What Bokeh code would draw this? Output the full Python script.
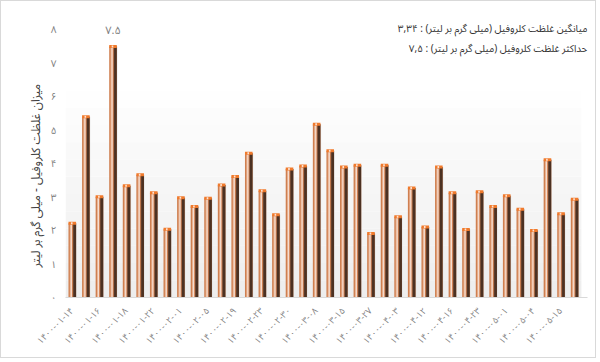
import numpy as np
from bokeh.plotting import figure
from bokeh.models import ColumnDataSource, FixedTicker, Label, BoxAnnotation, Range1d, Title
from bokeh.transform import dodge
from bokeh.core.properties import value
from bokeh.embed import file_html
from bokeh.resources import INLINE

# ---- data ----
dates = ["1400-01-14", "1400-01-16", "1400-01-18", "1400-01-22", "1400-02-01",
         "1400-02-05", "1400-02-19", "1400-02-23", "1400-02-30", "1400-03-08",
         "1400-03-15", "1400-03-27", "1400-04-03", "1400-04-12", "1400-04-16",
         "1400-04-23", "1400-05-01", "1400-05-04", "1400-05-15"]

values = [2.22, 5.40, 3.01, 7.50, 3.34, 3.67, 3.13, 2.04, 2.98, 2.72,
          2.97, 3.36, 3.62, 4.31, 3.19, 2.47, 3.84, 3.93, 5.18, 4.39,
          3.90, 3.95, 1.91, 3.95, 2.41, 3.27, 2.11, 3.90, 3.13, 2.03,
          3.16, 2.72, 3.04, 2.64, 2.00, 4.12, 2.50, 2.94]

y_tick_values = [0, 1, 2, 3, 4, 5, 6, 7, 8]
y_title = "میزان غلظت کلروفیل - میلی گرم بر لیتر"
mean_text = "میانگین غلظت کلروفیل (میلی گرم بر لیتر) : ۳,۳۴"
max_text = "حداکثر غلظت کلروفیل (میلی گرم بر لیتر) : ۷,۵"
max_label = "۷.۵"

FA = str.maketrans("0123456789", "۰۱۲۳۴۵۶۷۸۹")
FONT = "'Noto Sans Arabic', 'DejaVu Sans'"

n = len(values)
idx = list(range(n))
source = ColumnDataSource(dict(x=idx, y=values))

p = figure(width=596, height=358,
           x_range=Range1d(-0.5, n - 0.05), y_range=Range1d(0, 8.25),
           output_backend="svg", toolbar_location=None,
           min_border_left=64, min_border_right=10, min_border_top=20, min_border_bottom=60)
p.styles = {"border": "1px solid #d9d9d9"}

p.background_fill_color = "white"
p.border_fill_color = "white"
p.outline_line_color = None
p.xgrid.grid_line_color = None
p.ygrid.grid_line_color = None

# soft vertical gradient of the plot area
n_bands = 16
edges = np.linspace(0, 8.25, n_bands + 1)
for i in range(n_bands):
    g = int(round(238 + (255 - 238) * min(1.0, i / (n_bands * 0.75))))
    p.add_layout(BoxAnnotation(bottom=edges[i], top=edges[i + 1], left=-0.5, right=n - 0.5,
                               fill_color=(g, g, g), fill_alpha=1.0,
                               line_color=None, level="underlay"))

# ---- bars (layered to imitate the copper cylinders) ----
W = 0.56
p.vbar(x=dodge("x", 0.05), top="y", bottom=0, width=W, source=source,
       fill_color="#d8d8d8", fill_alpha=0.6, line_color=None)  # faint shadow
p.vbar(x="x", top="y", bottom=0, width=W, source=source,
       fill_color="#cf7f50", line_color=None)
p.vbar(x=dodge("x", -0.10), top="y", bottom=0, width=0.16, source=source,
       fill_color="#e9b392", line_color=None)
p.vbar(x=dodge("x", -0.07), top="y", bottom=0, width=0.08, source=source,
       fill_color="#f5ddd0", line_color=None)
p.vbar(x=dodge("x", 0.08), top="y", bottom=0, width=0.08, source=source,
       fill_color="#8f5d42", line_color=None)
p.vbar(x=dodge("x", 0.18), top="y", bottom=0, width=0.20, source=source,
       fill_color="#4c3122", line_color=None)
p.rect(x="x", y="y", width=W, height=3, height_units="screen", source=source,
       fill_color="#f07a2c", line_color=None)
p.rect(x=dodge("x", -0.04), y="y", width=0.12, height=2, height_units="screen",
       source=source, fill_color="#fbe3d4", line_color=None)

# label of the maximum
i_max = int(np.argmax(values))
p.text(x=[i_max], y=[values[i_max]], text=[max_label], y_offset=-16,
       text_align="center", text_baseline="alphabetic", text_color="#7f7f7f",
       text_font_size="11px", text_font=value(FONT))

# ---- axes ----
p.xaxis.ticker = FixedTicker(ticks=list(range(0, n, 2)))
p.xaxis.major_label_overrides = {2 * i: "\u202d" + d.translate(FA) + "\u202c"
                                 for i, d in enumerate(dates)}
p.xaxis.major_label_orientation = np.pi / 4
p.xaxis.axis_line_color = "#d9d9d9"
p.xaxis.major_tick_line_color = None
p.xaxis.minor_tick_line_color = None
p.xaxis.major_label_text_font = FONT
p.xaxis.major_label_text_font_size = "9px"
p.xaxis.major_label_text_color = "#808080"
p.xaxis.major_label_standoff = 6

p.yaxis.ticker = FixedTicker(ticks=y_tick_values)
p.yaxis.major_label_overrides = {v: str(v).translate(FA) for v in y_tick_values}
p.yaxis.axis_line_color = None
p.yaxis.major_tick_line_color = None
p.yaxis.minor_tick_line_color = None
p.yaxis.major_label_text_font = FONT
p.yaxis.major_label_text_font_size = "10px"
p.yaxis.major_label_text_color = "#808080"
p.yaxis.major_label_standoff = 3

p.add_layout(Title(text=y_title, align="left", offset=30, standoff=-3,
                   text_font=FONT, text_font_size="12px", text_font_style="normal",
                   text_color="#404040"), "left")

# ---- header texts ----
p.add_layout(Label(x=n - 0.05, y=8.03, text=mean_text,
                   text_align="right", text_baseline="alphabetic",
                   text_font=FONT, text_font_size="10px", text_color="#333333"))
p.add_layout(Label(x=n - 0.05, y=7.43, text=max_text,
                   text_align="right", text_baseline="alphabetic",
                   text_font=FONT, text_font_size="10px", text_color="#333333"))

open("out.html", "w").write(file_html(p, INLINE))
